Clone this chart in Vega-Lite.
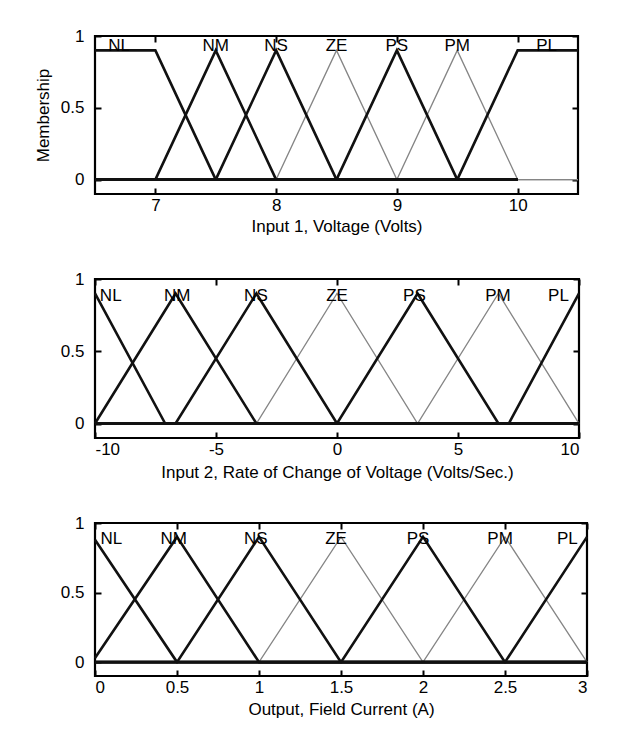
{
  "$schema": "https://vega.github.io/schema/vega-lite/v6.json",
  "padding": {"left": 33, "top": 25, "right": 20, "bottom": 10},
  "background": "white",
  "bounds": "flush",
  "spacing": 85,
  "config": {
    "font": "Liberation Sans",
    "view": {"stroke": "black", "strokeWidth": 2.2},
    "axis": {
      "domain": false,
      "grid": false,
      "tickSize": -6,
      "tickWidth": 2,
      "tickColor": "black",
      "labelFontSize": 17,
      "labelColor": "black",
      "labelExpr": "datum.value + ''",
      "titleFontSize": 17,
      "titleFontWeight": "normal",
      "titleColor": "black"
    }
  },
  "datasets": {
    "p1": [
      {"mf": "NL", "tone": "dark", "i": 1, "x": 6.5, "y": 0.9},
      {"mf": "NL", "tone": "dark", "i": 2, "x": 7.0, "y": 0.9},
      {"mf": "NL", "tone": "dark", "i": 3, "x": 7.5, "y": 0},
      {"mf": "NL", "tone": "dark", "i": 4, "x": 10.0, "y": 0},
      {"mf": "NM", "tone": "dark", "i": 1, "x": 6.5, "y": 0},
      {"mf": "NM", "tone": "dark", "i": 2, "x": 7.0, "y": 0},
      {"mf": "NM", "tone": "dark", "i": 3, "x": 7.5, "y": 0.9},
      {"mf": "NM", "tone": "dark", "i": 4, "x": 8.0, "y": 0},
      {"mf": "NM", "tone": "dark", "i": 5, "x": 10.0, "y": 0},
      {"mf": "NS", "tone": "dark", "i": 1, "x": 6.5, "y": 0},
      {"mf": "NS", "tone": "dark", "i": 2, "x": 7.5, "y": 0},
      {"mf": "NS", "tone": "dark", "i": 3, "x": 8.0, "y": 0.9},
      {"mf": "NS", "tone": "dark", "i": 4, "x": 8.5, "y": 0},
      {"mf": "NS", "tone": "dark", "i": 5, "x": 10.0, "y": 0},
      {"mf": "ZE", "tone": "light", "i": 1, "x": 6.5, "y": 0},
      {"mf": "ZE", "tone": "light", "i": 2, "x": 8.0, "y": 0},
      {"mf": "ZE", "tone": "light", "i": 3, "x": 8.5, "y": 0.9},
      {"mf": "ZE", "tone": "light", "i": 4, "x": 9.0, "y": 0},
      {"mf": "ZE", "tone": "light", "i": 5, "x": 10.5, "y": 0},
      {"mf": "PS", "tone": "dark", "i": 1, "x": 6.5, "y": 0},
      {"mf": "PS", "tone": "dark", "i": 2, "x": 8.5, "y": 0},
      {"mf": "PS", "tone": "dark", "i": 3, "x": 9.0, "y": 0.9},
      {"mf": "PS", "tone": "dark", "i": 4, "x": 9.5, "y": 0},
      {"mf": "PS", "tone": "dark", "i": 5, "x": 10.0, "y": 0},
      {"mf": "PM", "tone": "light", "i": 1, "x": 6.5, "y": 0},
      {"mf": "PM", "tone": "light", "i": 2, "x": 9.0, "y": 0},
      {"mf": "PM", "tone": "light", "i": 3, "x": 9.5, "y": 0.9},
      {"mf": "PM", "tone": "light", "i": 4, "x": 10.0, "y": 0},
      {"mf": "PM", "tone": "light", "i": 5, "x": 10.5, "y": 0},
      {"mf": "PL", "tone": "dark", "i": 1, "x": 6.5, "y": 0},
      {"mf": "PL", "tone": "dark", "i": 2, "x": 9.5, "y": 0},
      {"mf": "PL", "tone": "dark", "i": 3, "x": 10.0, "y": 0.9},
      {"mf": "PL", "tone": "dark", "i": 4, "x": 10.5, "y": 0.9}
    ],
    "p2": [
      {"mf": "NL", "tone": "dark", "i": 1, "x": -10, "y": 0.9},
      {"mf": "NL", "tone": "dark", "i": 2, "x": -7.1, "y": 0},
      {"mf": "NL", "tone": "dark", "i": 3, "x": 10, "y": 0},
      {"mf": "NM", "tone": "dark", "i": 1, "x": -10, "y": 0},
      {"mf": "NM", "tone": "dark", "i": 2, "x": -6.67, "y": 0.9},
      {"mf": "NM", "tone": "dark", "i": 3, "x": -3.33, "y": 0},
      {"mf": "NM", "tone": "dark", "i": 4, "x": 10, "y": 0},
      {"mf": "NS", "tone": "dark", "i": 1, "x": -10, "y": 0},
      {"mf": "NS", "tone": "dark", "i": 2, "x": -6.67, "y": 0},
      {"mf": "NS", "tone": "dark", "i": 3, "x": -3.33, "y": 0.9},
      {"mf": "NS", "tone": "dark", "i": 4, "x": 0, "y": 0},
      {"mf": "NS", "tone": "dark", "i": 5, "x": 10, "y": 0},
      {"mf": "ZE", "tone": "light", "i": 1, "x": -10, "y": 0},
      {"mf": "ZE", "tone": "light", "i": 2, "x": -3.33, "y": 0},
      {"mf": "ZE", "tone": "light", "i": 3, "x": 0, "y": 0.9},
      {"mf": "ZE", "tone": "light", "i": 4, "x": 3.33, "y": 0},
      {"mf": "ZE", "tone": "light", "i": 5, "x": 10, "y": 0},
      {"mf": "PS", "tone": "dark", "i": 1, "x": -10, "y": 0},
      {"mf": "PS", "tone": "dark", "i": 2, "x": 0, "y": 0},
      {"mf": "PS", "tone": "dark", "i": 3, "x": 3.33, "y": 0.9},
      {"mf": "PS", "tone": "dark", "i": 4, "x": 6.67, "y": 0},
      {"mf": "PS", "tone": "dark", "i": 5, "x": 10, "y": 0},
      {"mf": "PM", "tone": "light", "i": 1, "x": -10, "y": 0},
      {"mf": "PM", "tone": "light", "i": 2, "x": 3.33, "y": 0},
      {"mf": "PM", "tone": "light", "i": 3, "x": 6.67, "y": 0.9},
      {"mf": "PM", "tone": "light", "i": 4, "x": 10, "y": 0},
      {"mf": "PL", "tone": "dark", "i": 1, "x": -10, "y": 0},
      {"mf": "PL", "tone": "dark", "i": 2, "x": 7.1, "y": 0},
      {"mf": "PL", "tone": "dark", "i": 3, "x": 10, "y": 0.9}
    ],
    "p3": [
      {"mf": "NL", "tone": "dark", "i": 1, "x": 0, "y": 0.88},
      {"mf": "NL", "tone": "dark", "i": 2, "x": 0.5, "y": 0},
      {"mf": "NL", "tone": "dark", "i": 3, "x": 3, "y": 0},
      {"mf": "NM", "tone": "dark", "i": 1, "x": 0, "y": 0.03},
      {"mf": "NM", "tone": "dark", "i": 2, "x": 0.5, "y": 0.9},
      {"mf": "NM", "tone": "dark", "i": 3, "x": 1.0, "y": 0},
      {"mf": "NM", "tone": "dark", "i": 4, "x": 3, "y": 0},
      {"mf": "NS", "tone": "dark", "i": 1, "x": 0, "y": 0},
      {"mf": "NS", "tone": "dark", "i": 2, "x": 0.5, "y": 0},
      {"mf": "NS", "tone": "dark", "i": 3, "x": 1.0, "y": 0.9},
      {"mf": "NS", "tone": "dark", "i": 4, "x": 1.5, "y": 0},
      {"mf": "NS", "tone": "dark", "i": 5, "x": 3, "y": 0},
      {"mf": "ZE", "tone": "light", "i": 1, "x": 0, "y": 0},
      {"mf": "ZE", "tone": "light", "i": 2, "x": 1.0, "y": 0},
      {"mf": "ZE", "tone": "light", "i": 3, "x": 1.5, "y": 0.9},
      {"mf": "ZE", "tone": "light", "i": 4, "x": 2.0, "y": 0},
      {"mf": "ZE", "tone": "light", "i": 5, "x": 3, "y": 0},
      {"mf": "PS", "tone": "dark", "i": 1, "x": 0, "y": 0},
      {"mf": "PS", "tone": "dark", "i": 2, "x": 1.5, "y": 0},
      {"mf": "PS", "tone": "dark", "i": 3, "x": 2.0, "y": 0.9},
      {"mf": "PS", "tone": "dark", "i": 4, "x": 2.5, "y": 0},
      {"mf": "PS", "tone": "dark", "i": 5, "x": 3, "y": 0},
      {"mf": "PM", "tone": "light", "i": 1, "x": 0, "y": 0},
      {"mf": "PM", "tone": "light", "i": 2, "x": 2.0, "y": 0},
      {"mf": "PM", "tone": "light", "i": 3, "x": 2.5, "y": 0.9},
      {"mf": "PM", "tone": "light", "i": 4, "x": 3, "y": 0},
      {"mf": "PL", "tone": "dark", "i": 1, "x": 0, "y": 0},
      {"mf": "PL", "tone": "dark", "i": 2, "x": 2.5, "y": 0},
      {"mf": "PL", "tone": "dark", "i": 3, "x": 3, "y": 0.9}
    ],
    "l1": [
      {"label": "NL", "x": 6.7, "y": 0.895},
      {"label": "NM", "x": 7.5, "y": 0.895},
      {"label": "NS", "x": 8.0, "y": 0.895},
      {"label": "ZE", "x": 8.5, "y": 0.895},
      {"label": "PS", "x": 9.0, "y": 0.895},
      {"label": "PM", "x": 9.5, "y": 0.895},
      {"label": "PL", "x": 10.24, "y": 0.895}
    ],
    "l2": [
      {"label": "NL", "x": -9.35, "y": 0.85},
      {"label": "NM", "x": -6.6, "y": 0.85},
      {"label": "NS", "x": -3.35, "y": 0.85},
      {"label": "ZE", "x": 0, "y": 0.85},
      {"label": "PS", "x": 3.2, "y": 0.85},
      {"label": "PM", "x": 6.65, "y": 0.85},
      {"label": "PL", "x": 9.15, "y": 0.85}
    ],
    "l3": [
      {"label": "NL", "x": 0.1, "y": 0.85},
      {"label": "NM", "x": 0.48, "y": 0.85},
      {"label": "NS", "x": 0.98, "y": 0.85},
      {"label": "ZE", "x": 1.47, "y": 0.85},
      {"label": "PS", "x": 1.97, "y": 0.85},
      {"label": "PM", "x": 2.47, "y": 0.85},
      {"label": "PL", "x": 2.88, "y": 0.85}
    ]
  },
  "vconcat": [
    {
      "width": 483,
      "height": 158,
      "resolve": {"axis": {"x": "independent", "y": "independent"}},
      "layer": [
        {
          "data": {"name": "p1"},
          "transform": [{"filter": "datum.tone == 'light'"}],
          "mark": {"type": "line", "color": "#858585", "strokeWidth": 1.3},
          "encoding": {
            "x": {"field": "x", "type": "quantitative", "scale": {"domain": [6.5, 10.5], "nice": false, "zero": false}, "axis": {"orient": "bottom", "values": [7, 8, 9, 10], "title": "Input 1, Voltage (Volts)", "labelPadding": 9, "titlePadding": 5}},
            "y": {"field": "y", "type": "quantitative", "scale": {"domain": [-0.1, 1], "nice": false}, "axis": {"orient": "left", "values": [0, 0.5, 1], "title": "Membership", "labelPadding": 17, "titlePadding": 8}},
            "detail": {"field": "mf"},
            "order": {"field": "i"}
          }
        },
        {
          "data": {"name": "p1"},
          "transform": [{"filter": "datum.tone == 'dark'"}],
          "mark": {"type": "line", "color": "#111111", "strokeWidth": 2.6},
          "encoding": {
            "x": {"field": "x", "type": "quantitative", "axis": {"orient": "top", "values": [7, 8, 9, 10], "labels": false, "title": null}},
            "y": {"field": "y", "type": "quantitative", "axis": {"orient": "right", "values": [0, 0.5, 1], "labels": false, "title": null}},
            "detail": {"field": "mf"},
            "order": {"field": "i"}
          }
        },
        {
          "data": {"name": "l1"},
          "mark": {"type": "text", "fontSize": 17, "color": "black", "baseline": "alphabetic", "align": "center"},
          "encoding": {
            "x": {"field": "x", "type": "quantitative", "axis": null},
            "y": {"field": "y", "type": "quantitative", "axis": null},
            "text": {"field": "label"}
          }
        }
      ]
    },
    {
      "width": 484,
      "height": 159,
      "resolve": {"axis": {"x": "independent", "y": "independent"}},
      "layer": [
        {
          "data": {"name": "p2"},
          "transform": [{"filter": "datum.tone == 'light'"}],
          "mark": {"type": "line", "color": "#858585", "strokeWidth": 1.3},
          "encoding": {
            "x": {"field": "x", "type": "quantitative", "scale": {"domain": [-10, 10], "nice": false}, "axis": {"orient": "bottom", "values": [-10, -5, 0, 5, 10], "title": "Input 2, Rate of Change of Voltage (Volts/Sec.)", "labelPadding": 9, "titlePadding": 7, "labelFlush": true}},
            "y": {"field": "y", "type": "quantitative", "scale": {"domain": [-0.1, 1], "nice": false}, "axis": {"orient": "left", "values": [0, 0.5, 1], "title": null, "labelPadding": 17}},
            "detail": {"field": "mf"},
            "order": {"field": "i"}
          }
        },
        {
          "data": {"name": "p2"},
          "transform": [{"filter": "datum.tone == 'dark'"}],
          "mark": {"type": "line", "color": "#111111", "strokeWidth": 2.6},
          "encoding": {
            "x": {"field": "x", "type": "quantitative", "axis": {"orient": "top", "values": [-10, -5, 0, 5, 10], "labels": false, "title": null}},
            "y": {"field": "y", "type": "quantitative", "axis": {"orient": "right", "values": [0, 0.5, 1], "labels": false, "title": null}},
            "detail": {"field": "mf"},
            "order": {"field": "i"}
          }
        },
        {
          "data": {"name": "l2"},
          "mark": {"type": "text", "fontSize": 17, "color": "black", "baseline": "alphabetic", "align": "center"},
          "encoding": {
            "x": {"field": "x", "type": "quantitative", "axis": null},
            "y": {"field": "y", "type": "quantitative", "axis": null},
            "text": {"field": "label"}
          }
        }
      ]
    },
    {
      "width": 492,
      "height": 153,
      "resolve": {"axis": {"x": "independent", "y": "independent"}},
      "layer": [
        {
          "data": {"name": "p3"},
          "transform": [{"filter": "datum.tone == 'light'"}],
          "mark": {"type": "line", "color": "#858585", "strokeWidth": 1.3},
          "encoding": {
            "x": {"field": "x", "type": "quantitative", "scale": {"domain": [0, 3], "nice": false}, "axis": {"orient": "bottom", "values": [0, 0.5, 1, 1.5, 2, 2.5, 3], "title": "Output, Field Current (A)", "labelPadding": 9, "titlePadding": 6}},
            "y": {"field": "y", "type": "quantitative", "scale": {"domain": [-0.1, 1], "nice": false}, "axis": {"orient": "left", "values": [0, 0.5, 1], "title": null, "labelPadding": 17}},
            "detail": {"field": "mf"},
            "order": {"field": "i"}
          }
        },
        {
          "data": {"name": "p3"},
          "transform": [{"filter": "datum.tone == 'dark'"}],
          "mark": {"type": "line", "color": "#111111", "strokeWidth": 2.6},
          "encoding": {
            "x": {"field": "x", "type": "quantitative", "axis": {"orient": "top", "values": [0, 0.5, 1, 1.5, 2, 2.5, 3], "labels": false, "title": null}},
            "y": {"field": "y", "type": "quantitative", "axis": {"orient": "right", "values": [0, 0.5, 1], "labels": false, "title": null}},
            "detail": {"field": "mf"},
            "order": {"field": "i"}
          }
        },
        {
          "data": {"name": "l3"},
          "mark": {"type": "text", "fontSize": 17, "color": "black", "baseline": "alphabetic", "align": "center"},
          "encoding": {
            "x": {"field": "x", "type": "quantitative", "axis": null},
            "y": {"field": "y", "type": "quantitative", "axis": null},
            "text": {"field": "label"}
          }
        }
      ]
    }
  ]
}
